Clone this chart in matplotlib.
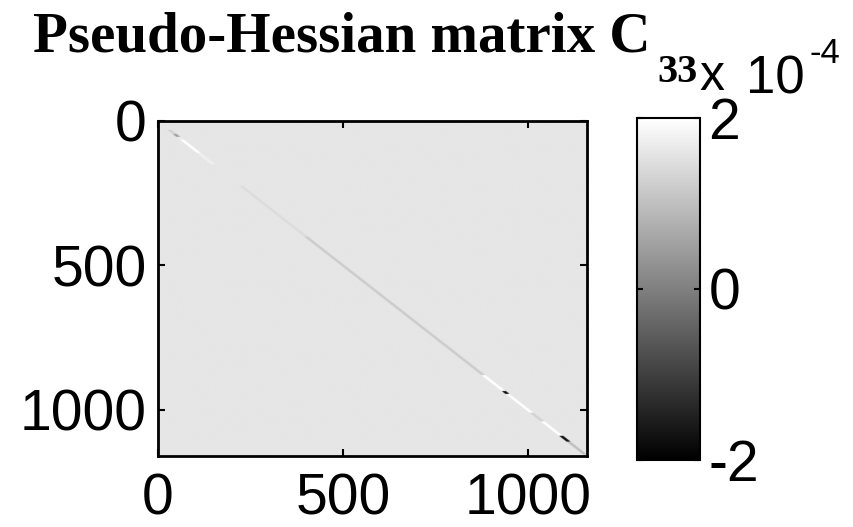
import numpy as np
import matplotlib
matplotlib.use("Agg")
import matplotlib.pyplot as plt

# ---- data ----
N = 1160
background = 1.6e-4
band_halfwidth = 5
seg_start = [30, 45, 55, 65, 110, 225, 400, 880, 935, 945, 1010, 1040, 1090, 1110]
seg_end   = [45, 55, 65, 110, 150, 400, 880, 935, 945, 1010, 1040, 1090, 1110, 1155]
seg_value = [1.3e-4, 0.5e-4, 1.7e-4, 2.0e-4, 1.75e-4, 1.45e-4, 1.2e-4,
             2.0e-4, -1.8e-4, 2.0e-4, 1.3e-4, 2.0e-4, -1.7e-4, 1.0e-4]
clim = (-2e-4, 2e-4)
xticks = [0, 500, 1000]
yticks = [0, 500, 1000]
cticks = [-2e-4, 0, 2e-4]
ctick_labels = ["-2", "0", "2"]

M = np.full((N, N), background)
for s, e, v in zip(seg_start, seg_end, seg_value):
    for i in range(s, e):
        lo, hi = max(0, i - band_halfwidth), min(N, i + band_halfwidth + 1)
        M[i, lo:hi] = v

W, H = 854, 527
fig = plt.figure(figsize=(W / 100, H / 100), dpi=100)

def box(l, t, r, b):
    return [l / W, 1 - b / H, (r - l) / W, (b - t) / H]

sans = ["Liberation Sans", "DejaVu Sans"]
serif = ["Liberation Serif", "DejaVu Serif"]
fs = 41

ax = fig.add_axes(box(158, 121, 587, 456))
im = ax.imshow(M, cmap="gray", vmin=clim[0], vmax=clim[1], aspect="auto",
               extent=(0, N, N, 0), interpolation="bilinear")
ax.set_xlim(0, N)
ax.set_ylim(N, 0)
ax.set_xticks(xticks)
ax.set_yticks(yticks)
ax.set_xticklabels([str(t) for t in xticks], family=sans, fontsize=fs)
ax.set_yticklabels([str(t) for t in yticks], family=sans, fontsize=fs)
ax.tick_params(direction="in", length=5, width=1.5, top=True, right=True)
ax.tick_params(axis="y", pad=8)
ax.tick_params(axis="x", pad=12)
for sp in ax.spines.values():
    sp.set_linewidth(2)

cax = fig.add_axes(box(637, 118, 700, 460))
cb = fig.colorbar(im, cax=cax, ticks=cticks)
cb.ax.set_yticklabels(ctick_labels, family=sans, fontsize=fs)
cax.tick_params(direction="in", length=4, width=1.5, left=True, right=True, pad=6)
cb.outline.set_linewidth(1.5)

# title
fig.text(33 / W, 1 - 52 / H, "Pseudo-Hessian matrix C", family=serif,
         fontweight="bold", fontsize=41, ha="left", va="baseline")
fig.text(657 / W, 1 - 82 / H, "33", family=serif, fontweight="bold",
         fontsize=29, ha="left", va="baseline")
# colorbar exponent
fig.text(699 / W, 1 - 90 / H, "x", family=sans, fontsize=36, ha="left", va="baseline")
fig.text(746 / W, 1 - 94 / H, "10", family=sans, fontsize=38, ha="left", va="baseline")
fig.text(810 / W, 1 - 63 / H, "-4", family=sans, fontsize=25, ha="left", va="baseline")

fig.savefig("out.png", dpi=100)
